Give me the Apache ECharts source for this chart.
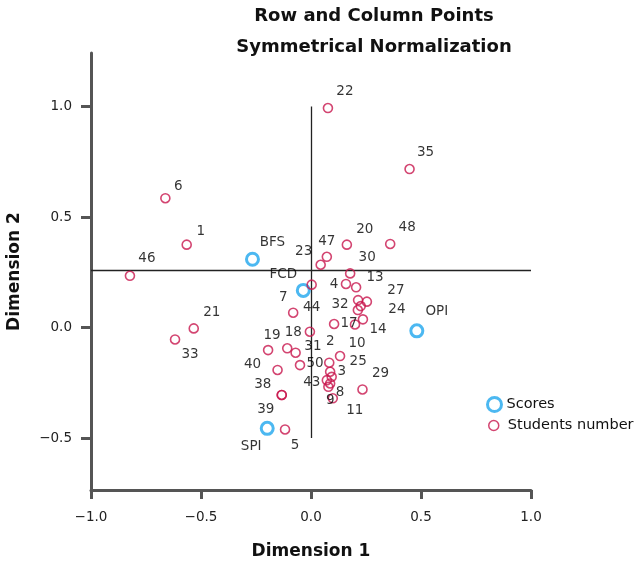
<!DOCTYPE html>
<html>
<head>
<meta charset="utf-8">
<script src="https://cdn.jsdelivr.net/npm/echarts@6/dist/echarts.min.js"></script>
<style>html,body{margin:0;padding:0;background:#fff}#c{width:637px;height:564px}</style>
</head>
<body>
<div id="c"></div>
<script>
// ---- data ----
const titleLines = ['Row and Column Points', 'Symmetrical Normalization'];
const xTicks = [-1.0, -0.5, 0.0, 0.5, 1.0];
const yTicks = [-0.5, 0.0, 0.5, 1.0];

const scoreNames = ['BFS', 'FCD', 'OPI', 'SPI'];
const scoreX = [-0.266, -0.035, 0.481, -0.199];
const scoreY = [0.309, 0.168, -0.015, -0.456];

const studentNames = ['22','35','6','1','46','21','33','20','48','47','23','30','44','4','13','32','27','15','16','24','14','17','7','31','19','18','26','50','40','10','2','25','3','43','8','9','11','29','38','39','5'];
const studentX = [0.077,0.448,-0.662,-0.565,-0.823,-0.533,-0.618,0.163,0.360,0.072,0.044,0.178,0.003,0.159,0.205,0.214,0.254,0.226,0.213,0.236,0.200,0.105,-0.081,-0.005,-0.195,-0.108,-0.070,-0.050,-0.152,0.132,0.083,0.087,0.094,0.072,0.087,0.079,0.099,0.234,-0.133,-0.133,-0.118];
const studentY = [0.993,0.717,0.585,0.375,0.234,-0.004,-0.054,0.375,0.378,0.320,0.284,0.245,0.194,0.197,0.182,0.124,0.117,0.097,0.079,0.037,0.014,0.016,0.067,-0.019,-0.102,-0.094,-0.114,-0.170,-0.192,-0.129,-0.159,-0.200,-0.223,-0.238,-0.253,-0.268,-0.320,-0.280,-0.305,-0.305,-0.461];
const unlabeled = ['15','16','26'];

// reference lines (centroid cross)
const refH = { y: 0.26, from: -1.0, to: 1.0 };
const refV = { x: 0.0, from: -0.5, to: 1.0 };

// ---- layout (label placement, pixels) ----
const labelOffset = {
  BFS:[20,-17], FCD:[-20,-16], OPI:[20,-19], SPI:[-16,18],
  '22':[17,-17],'35':[16,-17],'6':[13,-12],'1':[14,-13],'46':[17,-17],'21':[18,-16],'33':[15,15],
  '20':[18,-15],'48':[17,-16],'47':[0,-15],'23':[-17,-13],'30':[17,-16],'44':[0,23],'4':[-12,1],
  '32':[-18,4],'13':[19,-10],'27':[29,-11],'24':[34,-10],'14':[23,5],'17':[15,0],'7':[-10,-15],
  '31':[3,15],'19':[4,-15],'18':[6,-16],'50':[15,-2],'40':[-25,-5],'10':[17,-13],'2':[1,-21],
  '25':[28,-10],'3':[10,-5],'43':[-15,2],'8':[10,9],'9':[2,14],'11':[22,12],'29':[18,-16],
  '38':[-19,-10],'39':[-16,15],'5':[10,16]
};

const RED = '#c8164e';
const BLUE = '#1fa6ee';
const FONT = 'DejaVu Sans';

function fmt(v) {
  const s = Math.abs(v).toFixed(1);
  return v < 0 ? '\u2212' + s : s;
}
function items(names, xs, ys) {
  return names.map((n, i) => ({
    name: n,
    value: [xs[i], ys[i]],
    label: unlabeled.includes(n) ? { show: false } : { offset: labelOffset[n] || [15, -15] }
  }));
}

const chart = echarts.init(document.getElementById('c'), null, { renderer: 'canvas' });
chart.setOption({
  backgroundColor: '#fff',
  animation: false,
  title: [
    { text: titleLines[0], left: 369, top: 2, textAlign: 'center',
      textStyle: { fontFamily: FONT, fontSize: 18, fontWeight: 'bold', color: '#111' } },
    { text: titleLines[1], left: 369, top: 33, textAlign: 'center',
      textStyle: { fontFamily: FONT, fontSize: 18, fontWeight: 'bold', color: '#111' } }
  ],
  legend: [
    { orient: 'vertical', left: 481, top: 391, itemWidth: 14, itemHeight: 14, itemGap: 8,
      textStyle: { fontFamily: FONT, fontSize: 14.5, color: '#111' },
      data: [{ name: 'Scores', icon: 'circle', itemStyle: { color: '#fff', borderColor: BLUE, borderWidth: 3 } }] },
    { orient: 'vertical', left: 483, top: 413, itemWidth: 10, itemHeight: 10,
      textStyle: { fontFamily: FONT, fontSize: 14.5, color: '#111', padding: [0, 0, 0, 4] },
      data: [{ name: 'Students number', icon: 'circle', itemStyle: { color: '#fff', borderColor: RED, borderWidth: 1.5 } }] }
  ],
  grid: { left: 91, right: 106, top: 53, bottom: 74, containLabel: false, outerBoundsMode: 'none' },
  xAxis: {
    type: 'value', min: xTicks[0], max: xTicks[xTicks.length - 1], interval: 0.5,
    name: 'Dimension 1', nameLocation: 'middle', nameGap: 53,
    nameTextStyle: { fontFamily: FONT, fontSize: 17, fontWeight: 'bold', color: '#111' },
    axisLine: { show: true, onZero: false, lineStyle: { color: '#555', width: 3 } },
    axisTick: { show: true, length: 9, lineStyle: { color: '#555', width: 3 } },
    axisLabel: { margin: 20, fontFamily: FONT, fontSize: 13.5, color: '#222', formatter: fmt },
    splitLine: { show: false }
  },
  yAxis: {
    type: 'value', min: -0.735, max: 1.242,
    name: 'Dimension 2', nameLocation: 'middle', nameGap: 68, nameRotate: 90,
    nameTextStyle: { fontFamily: FONT, fontSize: 17, fontWeight: 'bold', color: '#111' },
    axisLine: { show: true, onZero: false, lineStyle: { color: '#555', width: 3 } },
    axisTick: { show: true, length: 10, customValues: yTicks, lineStyle: { color: '#555', width: 3 } },
    axisLabel: { margin: 19, customValues: yTicks, fontFamily: FONT, fontSize: 13.5, color: '#222', formatter: fmt },
    splitLine: { show: false }
  },
  series: [
    {
      name: 'Scores', type: 'scatter', symbol: 'circle', symbolSize: 12, z: 2,
      itemStyle: { color: 'rgba(0,0,0,0)', borderColor: BLUE, borderWidth: 3 },
      label: { show: true, position: 'inside', formatter: '{b}', fontFamily: FONT, fontSize: 13.5, color: '#000' },
      emphasis: { disabled: true },
      data: items(scoreNames, scoreX, scoreY)
    },
    {
      name: 'Students number', type: 'scatter', symbol: 'circle', symbolSize: 9, z: 3,
      itemStyle: { color: 'rgba(0,0,0,0)', borderColor: RED, borderWidth: 1.6 },
      label: { show: true, position: 'inside', formatter: '{b}', fontFamily: FONT, fontSize: 13.5, color: '#000' },
      emphasis: { disabled: true },
      data: items(studentNames, studentX, studentY),
      markLine: {
        silent: true, symbol: 'none', animation: false, z: 1,
        label: { show: false },
        lineStyle: { color: '#222', width: 1.3, type: 'solid' },
        data: [
          [{ coord: [refH.from, refH.y] }, { coord: [refH.to, refH.y] }],
          [{ coord: [refV.x, refV.from] }, { coord: [refV.x, refV.to] }]
        ]
      }
    }
  ]
});
</script>
</body>
</html>
